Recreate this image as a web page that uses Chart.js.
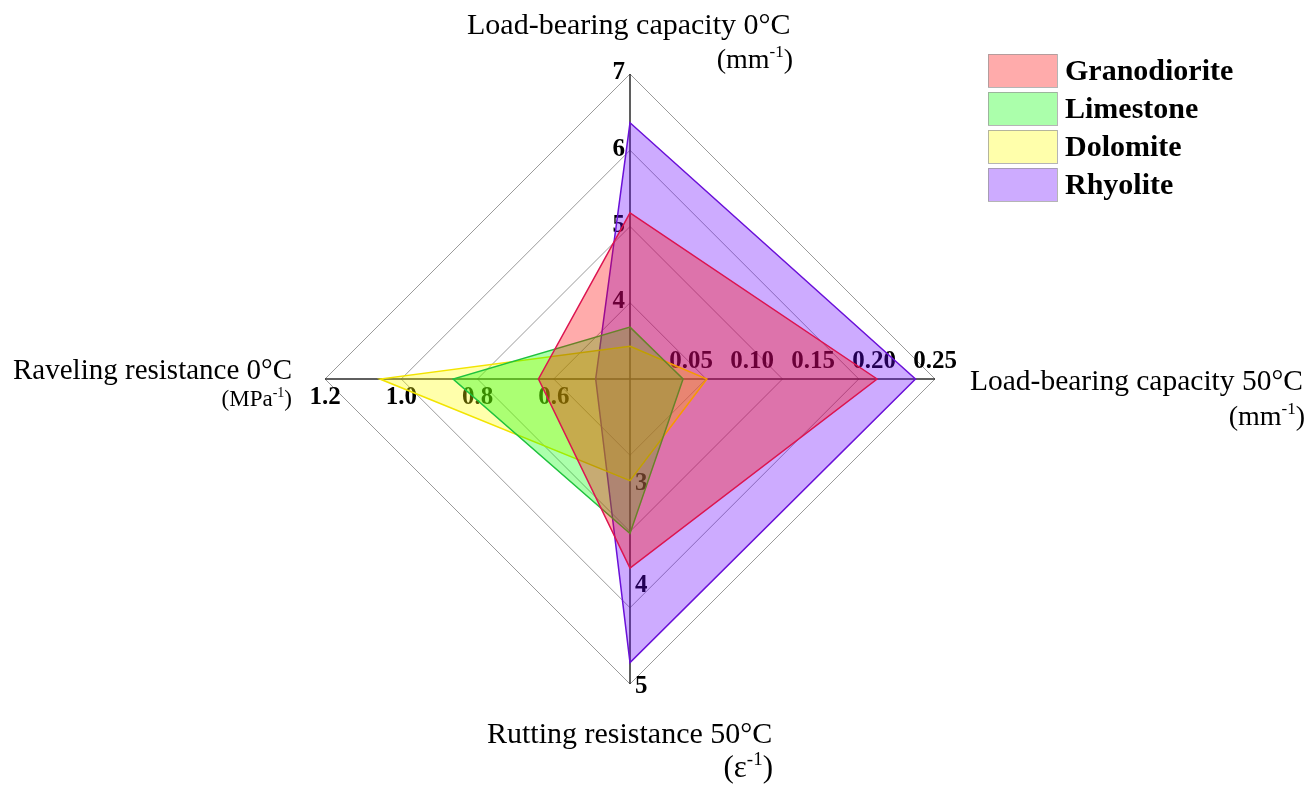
<!DOCTYPE html>
<html>
<head>
<meta charset="utf-8">
<script src="https://cdn.jsdelivr.net/npm/chart.js@4/dist/chart.umd.min.js"></script>
<style>
  body { margin: 0; background: #fff; }
  #wrap { width: 1311px; height: 785px; }
</style>
</head>
<body>
<div id="wrap"><canvas id="chart" width="1311" height="785"></canvas></div>
<script>
// axes go clockwise from the top
const axisNames = ["Load-bearing capacity 0°C", "Load-bearing capacity 50°C", "Rutting resistance 50°C", "Raveling resistance 0°C"];
const axisUnits = ["mm", "mm", "ε", "MPa"];
const axisMin = [3, 0, 2, 0.4];
const axisMax = [7, 0.25, 5, 1.2];
const axisTicks = [
    ["4", "5", "6", "7"],
    ["0.05", "0.10", "0.15", "0.20", "0.25"],
    ["3", "4", "5"],
    ["0.6", "0.8", "1.0", "1.2"]
];

const rockNames = ["Granodiorite", "Limestone", "Dolomite", "Rhyolite"];
const granodiorite = [5.18, 0.2025, 3.86, 0.64];
const limestone = [3.68, 0.0435, 3.52, 0.864];
const dolomite = [3.43, 0.063, 3.0, 1.056];
const rhyolite = [6.36, 0.234, 4.79, 0.49];

const rockFills = ["rgba(255,0,0,0.33)", "rgba(0,255,0,0.33)", "rgba(255,255,0,0.33)", "rgba(102,0,255,0.33)"];
const rockLines = ["#dc1450", "#1fc23d", "#f2e400", "#6a10d8"];

// every axis has its own range, so map values onto 0..1 of the radial scale
const toFraction = (values) => values.map((v, i) => (v - axisMin[i]) / (axisMax[i] - axisMin[i]));

const serif = '"Liberation Serif", "Times New Roman", serif';

// "(unit" + superscript -1 + ")", right aligned at xRight
const drawUnit = (ctx, unit, xRight, baseline, size) => {
    const mainFont = size + "px " + serif;
    const supFont = Math.round(size * 0.6) + "px " + serif;
    ctx.font = mainFont;
    const wOpen = ctx.measureText("(" + unit).width;
    const wClose = ctx.measureText(")").width;
    ctx.font = supFont;
    const wSup = ctx.measureText("-1").width;
    let x = xRight - wOpen - wSup - wClose;
    ctx.textAlign = "left";
    ctx.textBaseline = "alphabetic";
    ctx.font = mainFont;
    ctx.fillText("(" + unit, x, baseline);
    x += wOpen;
    ctx.font = supFont;
    ctx.fillText("-1", x, baseline - size * 0.38);
    x += wSup;
    ctx.font = mainFont;
    ctx.fillText(")", x, baseline);
};

// tick numbers sit under the translucent areas
const axisTickLabels = {
    id: "axisTickLabels",
    beforeDatasetsDraw(chart) {
        const ctx = chart.ctx;
        const scale = chart.scales.r;
        ctx.save();
        ctx.font = "bold 25px " + serif;
        ctx.fillStyle = "#000";
        axisTicks.forEach((ticks, i) => {
            ticks.forEach((label) => {
                const frac = (parseFloat(label) - axisMin[i]) / (axisMax[i] - axisMin[i]);
                const p = scale.getPointPositionForValue(i, frac);
                if (i === 0) {
                    ctx.textAlign = "right";
                    ctx.textBaseline = "middle";
                    ctx.fillText(label, p.x - 5, p.y - 1);
                } else if (i === 1) {
                    ctx.textAlign = "center";
                    ctx.textBaseline = "alphabetic";
                    ctx.fillText(label, p.x, p.y - 11);
                } else if (i === 2) {
                    ctx.textAlign = "left";
                    ctx.textBaseline = "middle";
                    ctx.fillText(label, p.x + 5, p.y + 3);
                } else {
                    ctx.textAlign = "center";
                    ctx.textBaseline = "top";
                    ctx.fillText(label, p.x, p.y + 6);
                }
            });
        });
        ctx.restore();
    }
};

const titlesAndLegend = {
    id: "titlesAndLegend",
    afterDraw(chart) {
        const ctx = chart.ctx;
        ctx.save();
        ctx.fillStyle = "#000";

        // axis titles
        ctx.font = "30px " + serif;
        ctx.textBaseline = "alphabetic";
        ctx.textAlign = "left";
        ctx.fillText(axisNames[0], 467, 34);
        ctx.fillText(axisNames[2], 487, 743);
        ctx.font = "29.5px " + serif;
        ctx.fillText(axisNames[1], 970, 390);
        ctx.font = "29px " + serif;
        ctx.textAlign = "right";
        ctx.fillText(axisNames[3], 292, 379);
        drawUnit(ctx, axisUnits[0], 793, 68, 28);
        drawUnit(ctx, axisUnits[1], 1305, 425, 28);
        drawUnit(ctx, axisUnits[2], 773, 777, 31);
        drawUnit(ctx, axisUnits[3], 292, 406, 23);

        // legend
        rockNames.forEach((name, i) => {
            const y = 54 + i * 38;
            ctx.fillStyle = rockFills[i];
            ctx.fillRect(988, y, 69, 33);
            ctx.strokeStyle = "rgba(150,150,150,0.7)";
            ctx.lineWidth = 1;
            ctx.strokeRect(988.5, y + 0.5, 69, 33);
            ctx.fillStyle = "#000";
            ctx.font = "bold 30px " + serif;
            ctx.textAlign = "left";
            ctx.textBaseline = "middle";
            ctx.fillText(name, 1065, y + 18);
        });
        ctx.restore();
    }
};

const rockValues = [granodiorite, limestone, dolomite, rhyolite];

new Chart(document.getElementById("chart"), {
    type: "radar",
    data: {
        labels: axisNames,
        datasets: rockNames.map((name, i) => ({
            label: name,
            data: toFraction(rockValues[i]),
            backgroundColor: rockFills[i],
            borderColor: rockLines[i],
            borderWidth: 1.5,
            fill: true,
            pointRadius: 0
        }))
    },
    options: {
        responsive: false,
        animation: false,
        layout: { padding: { left: 325, right: 376, top: 74, bottom: 101 } },
        plugins: { legend: { display: false }, tooltip: { enabled: false } },
        elements: { line: { tension: 0 } },
        scales: {
            r: {
                min: 0,
                max: 1,
                ticks: { stepSize: 0.25, display: false },
                pointLabels: { display: false },
                grid: { color: "#9a9a9a", lineWidth: 1 },
                angleLines: { color: "#2a2a2a", lineWidth: 1.5 }
            }
        }
    },
    plugins: [axisTickLabels, titlesAndLegend]
});
</script>
</body>
</html>
